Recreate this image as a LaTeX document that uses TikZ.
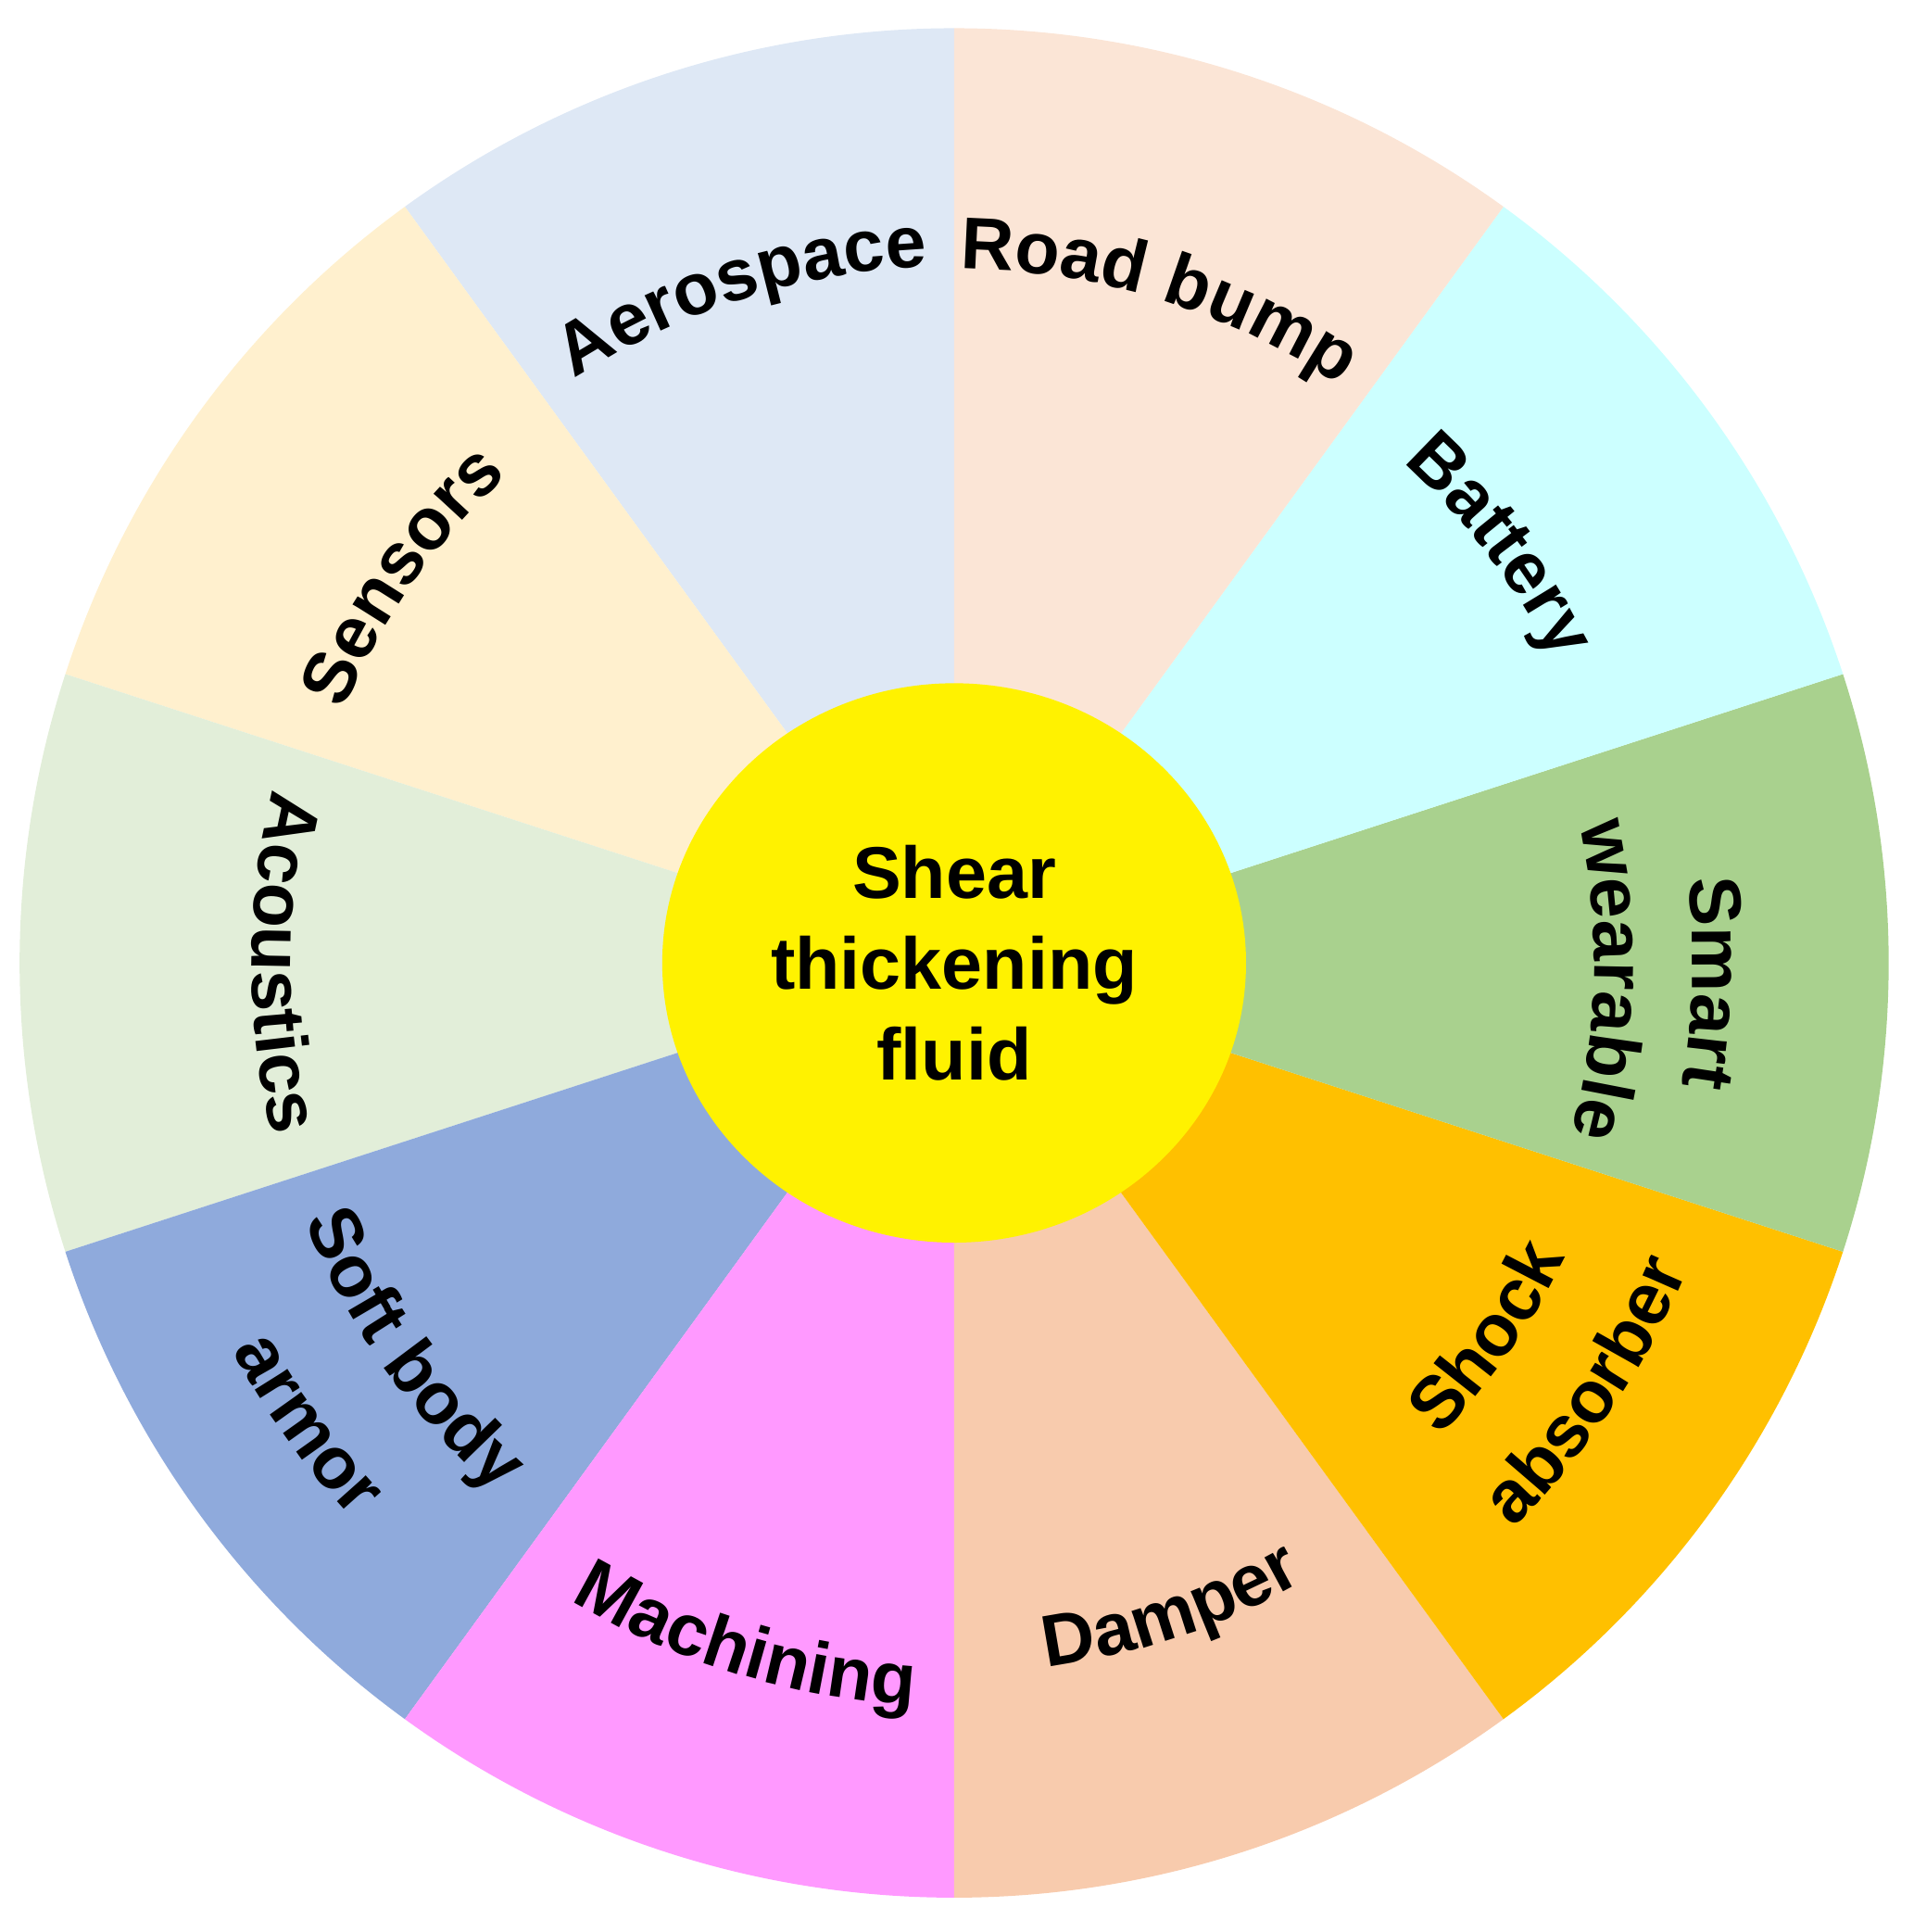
\documentclass[tikz,border=0pt]{standalone}
\usepackage{fontspec}
\setmainfont{Liberation Sans}
\usetikzlibrary{decorations.text,shapes.geometric,calc}
\definecolor{cAero}{HTML}{DEE8F5}
\definecolor{cSens}{HTML}{FFF0CE}
\definecolor{cAcou}{HTML}{E2EED9}
\definecolor{cArmor}{HTML}{8FAADC}
\definecolor{cMach}{HTML}{FF99FF}
\definecolor{cDamp}{HTML}{F8CBAD}
\definecolor{cShock}{HTML}{FFC000}
\definecolor{cSmart}{HTML}{A9D18E}
\definecolor{cBatt}{HTML}{CCFFFF}
\definecolor{cRoad}{HTML}{FBE5D6}
\newcommand\lab{\fontsize{17}{20}\selectfont\bfseries}
% label on the outer side of an arc (tops facing out)
\newcommand\outlab[3]{\path[decorate,decoration={text along path,text align=center,text={|\lab|#3}}]
  ($(C)+(#1+45:#2)$) arc[start angle=#1+45,end angle=#1-45,radius=#2];}
% label read the other way (tops facing in)
\newcommand\inlab[3]{\path[decorate,decoration={text along path,text align=center,text={|\lab|#3}}]
  ($(C)+(#1-45:#2)$) arc[start angle=#1-45,end angle=#1+45,radius=#2];}

\begin{document}
\begin{tikzpicture}
  \useasboundingbox (0,0) rectangle (15.6,15.75);
  \coordinate (C) at (7.78,7.9);
  % sectors
  \foreach \a/\col in {90/cAero, 126/cSens, 162/cAcou, 198/cArmor, 234/cMach,
                       270/cDamp, 306/cShock, 342/cSmart, 18/cBatt, 54/cRoad} {
    \fill[\col] (C) -- ++(\a:7.62) arc[start angle=\a, end angle=\a+36, radius=7.62] -- cycle;
  }
  % hub
  \node[ellipse, fill=yellow, minimum width=4.76cm, minimum height=4.56cm, inner sep=0pt] (hub) at (C) {};
  \node[align=center, font=\fontsize{17}{21}\selectfont\bfseries] (title) at (C) {Shear\\thickening\\fluid};
  % labels
  \outlab{107.6}{5.68}{Aerospace}
  \outlab{72.9}{5.66}{Road bump}
  \outlab{37.4}{5.48}{Battery}
  \outlab{145}{5.39}{Sensors}
  \outlab{-1.5}{6.02}{Smart}
  \outlab{-1.5}{5.22}{wearable}
  \inlab{180}{5.73}{Acoustics}
  \inlab{215.5}{5.70}{Soft body}
  \inlab{215.5}{6.68}{armor}
  \inlab{252.9}{6.06}{Machining}
  \inlab{288.5}{5.79}{Damper}
  \inlab{325}{5.53}{Shock}
  \inlab{326}{6.48}{absorber}
\end{tikzpicture}
\end{document}
